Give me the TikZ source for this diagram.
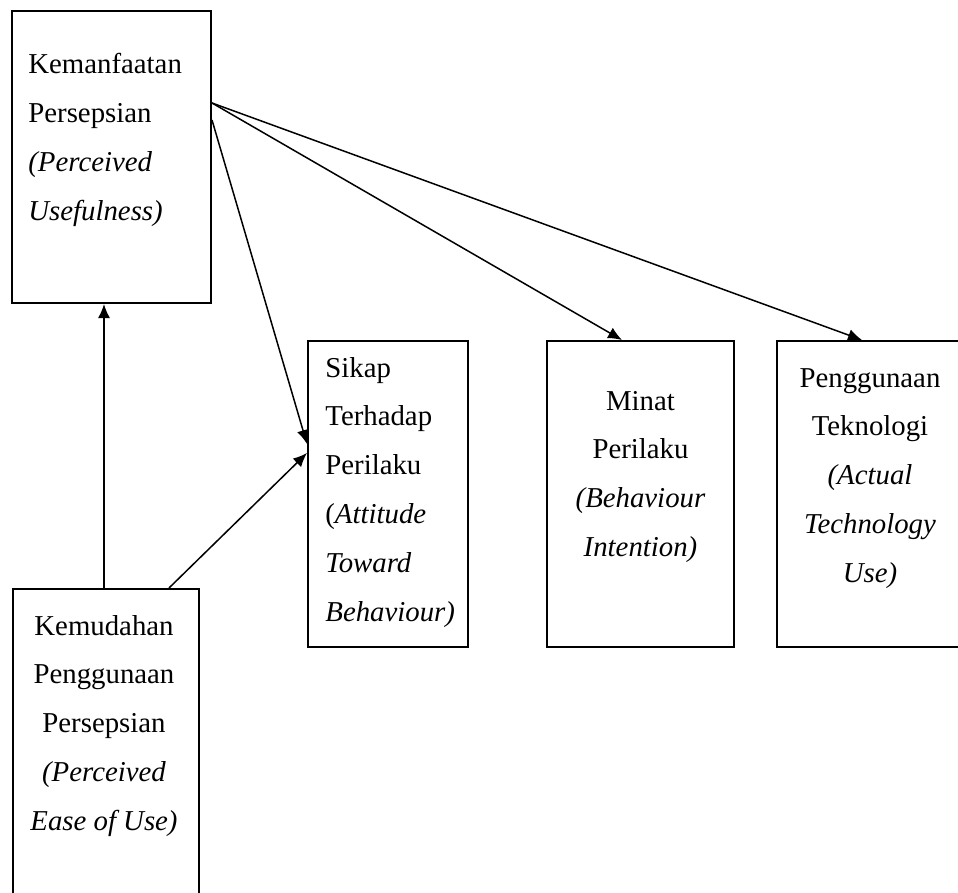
\documentclass[tikz,border=0pt]{standalone}
\usepackage{fontspec}
\setmainfont{Liberation Serif}
\usetikzlibrary{arrows.meta,positioning,calc}

\begin{document}
\begin{tikzpicture}[x=0.5pt,y=-0.5pt,
    box/.style={draw,line width=1pt,inner sep=0pt,anchor=north west},
    lbl/.style={inner sep=0pt,font=\fontsize{14.4}{24}\selectfont},
    link/.style={-{Latex[length=7pt,width=6pt]},line width=0.75pt}]
  \useasboundingbox (0,0) rectangle (958,893);
  % kotak
  \node[box,minimum width=99.5pt,minimum height=146pt] (pu) at (11,10) {};
  \node[box,minimum width=93pt,minimum height=165pt] (peou) at (12,588) {};
  \node[box,minimum width=80pt,minimum height=153pt] (sikap) at (307,340) {};
  \node[box,minimum width=93.5pt,minimum height=153pt] (minat) at (546,340) {};
  \node[box,minimum width=93pt,minimum height=153pt] (tek) at (776,340) {};
  % teks
  \foreach \txt [count=\i] in {{Kemanfaatan},{Persepsian},{\textit{(Perceived}},{\textit{Usefulness)}}}
    \node[lbl,anchor=base west] (pu-\i) at ($(pu.north west)+(17,64+48.8*\i-48.8)$) {\txt};
  \foreach \txt [count=\i] in {{Sikap},{Terhadap},{Perilaku},{(\textit{Attitude}},{\textit{Toward}},{\textit{Behaviour)}}}
    \node[lbl,anchor=base west] (sikap-\i) at ($(sikap.north west)+(18,37+48.8*\i-48.8)$) {\txt};
  \foreach \txt [count=\i] in {{Minat},{Perilaku},{\textit{(Behaviour}},{\textit{Intention)}}}
    \node[lbl,anchor=base] (minat-\i) at ($(minat.north)+(0,70+48.8*\i-48.8)$) {\txt};
  \foreach \txt [count=\i] in {{Penggunaan},{Teknologi},{\textit{(Actual}},{\textit{Technology}},{\textit{Use)}}}
    \node[lbl,anchor=base] (tek-\i) at ($(tek.north)+(0,47+48.8*\i-48.8)$) {\txt};
  \foreach \txt [count=\i] in {{Kemudahan},{Penggunaan},{Persepsian},{\textit{(Perceived}},{\textit{Ease of Use)}}}
    \node[lbl,anchor=base] (peou-\i) at ($(peou.north)+(-2,47+48.8*\i-48.8)$) {\txt};
  % panah
  \draw[link] ($(peou.north west)+(92,0)$) -- ($(pu.south west)+(93,0)$);
  \draw[link] ($(peou.north west)+(157,0)$) -- ($(sikap.north west)+(0,113)$);
  \draw[link] ($(pu.north east)+(0,110)$) -- ($(sikap.north west)+(0,104)$);
  \draw[link] ($(pu.north east)+(0,93)$) -- ($(minat.north west)+(76,0)$);
  \draw[link] ($(pu.north east)+(0,93)$) -- ($(tek.north west)+(86,0)$);
\end{tikzpicture}
\end{document}
